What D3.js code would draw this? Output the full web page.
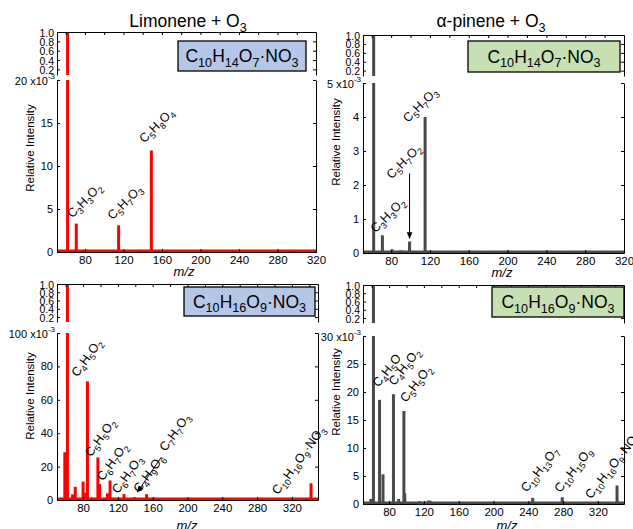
<!DOCTYPE html>
<html lang="en">
<head>
<meta charset="UTF-8">
<title>mass spectra</title>
<script src="https://d3js.org/d3.v7.min.js"></script>
<style>
  body { margin: 0; background: #fff; }
  text { font-family: Arial, "Liberation Sans", Helvetica, sans-serif; }
</style>
</head>
<body>
<script>
// ---- data (m/z and relative intensity) ----
var limoMz  = [62, 71, 74, 82, 90, 99, 109, 115, 137, 149, 222, 233, 294];
var limoVal = [1.0, 0.0033, 0.00015, 0.00025, 0.0002, 0.0002, 0.0002, 0.0031, 0.00025, 0.0118, 0.00015, 0.00015, 0.00025];
var limoLabels = ['C3H3O2', 'C5H7O3', 'C5H8O4'];
var limoLabelMz = [71, 115, 149];

var pineMz  = [62, 71, 81, 89, 91, 99, 104, 115, 140, 165, 182, 228, 242, 262, 295];
var pineVal = [1.0, 0.00052, 0.00011, 0.00007, 0.00007, 0.00034, 0.00004, 0.0040, 0.00004, 0.00004, 0.00003, 0.00004, 0.00004, 0.00003, 0.00004];
var pineLabels = ['C3H3O2', 'C5H7O2', 'C5H7O3'];
var pineLabelMz = [71, 99, 115];

var limo2Mz  = [59, 62, 68, 71, 80, 83, 85, 91, 97, 99, 108, 111, 127, 139, 153, 342];
var limo2Val = [0.0286, 1.0, 0.0034, 0.0079, 0.011, 0.0044, 0.071, 0.0015, 0.0255, 0.0095, 0.004, 0.0117, 0.0035, 0.0018, 0.0035, 0.010];
var limo2Labels = ['C4H5O2', 'C5H5O2', 'C6H7O2', 'C6H7O3', 'C7H7O3', 'C4H9O6', 'C10H16O9·NO3'];
var limo2LabelMz = [85, 97, 111, 127, 139, 153, 342];

var pine2Mz  = [59, 62, 69, 73, 85, 91, 97, 98, 115, 125, 127, 245, 279, 342];
var pine2Val = [0.0009, 1.0, 0.0186, 0.0053, 0.0196, 0.0009, 0.0166, 0.0019, 0.0005, 0.0006, 0.0006, 0.0011, 0.0012, 0.0033];
var pine2Labels = ['C4H5O', 'C4H5O2', 'C5H5O2', 'C10H13O7', 'C10H15O9', 'C10H16O9·NO3'];
var pine2LabelMz = [69, 85, 97, 245, 279, 342];

var titles = ['Limonene + O3', 'α-pinene + O3'];
var boxTexts = ['C10H14O7·NO3', 'C10H14O7·NO3', 'C10H16O9·NO3', 'C10H16O9·NO3'];
var brokenTicks = [0.2, 0.4, 0.6, 0.8, 1.0];
var mzTicks = [80, 120, 160, 200, 240, 280, 320];

// ---- layout ----
var width = 633, height = 529;
var svg = d3.select('body').append('svg').attr('width', width).attr('height', height);

var panels = [
  { mz: limoMz, val: limoVal, labels: limoLabels, labelMz: limoLabelMz, box: boxTexts[0],
    color: '#ff0000', fill: '#b4c7e7', left: 57, right: 316, xDom: [51, 320],
    top: [32, 75], low: [80, 252], lowMax: 20, lowStep: 5, angle: 45,
    nudge: [[-4, -5], [-6, -5], [-7, -7]], arrows: {},
    boxRect: [178, 41, 128, 30], ylab: [30, 148], mzPos: [184, 276] },
  { mz: pineMz, val: pineVal, labels: pineLabels, labelMz: pineLabelMz, box: boxTexts[1],
    color: '#4a4a4a', fill: '#c6e0b4', left: 363, right: 624, xDom: [51, 320],
    top: [35, 76], low: [83, 253], lowMax: 5, lowStep: 1, angle: 45,
    nudge: [[-7, -2], [-18, -62], [-17, 6]], arrows: { 1: [0, -68, 0, -3] },
    boxRect: [468, 41, 152, 31], ylab: [336, 142], mzPos: [502, 277] },
  { mz: limo2Mz, val: limo2Val, labels: limo2Labels, labelMz: limo2LabelMz, box: boxTexts[2],
    color: '#ff0000', fill: '#b4c7e7', left: 57, right: 318, xDom: [50, 350],
    top: [284, 322], low: [333, 500], lowMax: 100, lowStep: 20, angle: 54,
    nudge: [[-10, -4], [-7, 0], [-7, 1], [-6, 0], [31, -45], [-7, -1], [-33, 12]],
    arrows: { 4: [27, -40, 3, -5] },
    boxRect: [184, 287, 131, 29], ylab: [30, 396], mzPos: [187, 530] },
  { mz: pine2Mz, val: pine2Val, labels: pine2Labels, labelMz: pine2LabelMz, box: boxTexts[3],
    color: '#4a4a4a', fill: '#c6e0b4', left: 363, right: 624, xDom: [50, 350],
    top: [285, 323], low: [336, 504], lowMax: 30, lowStep: 5, angle: 52,
    nudge: [[-1, -12], [1, -8], [2, -8], [-6, -5], [-2, -4], [-26, 14]], arrows: {},
    boxRect: [492, 287, 132, 30], ylab: [336, 392], mzPos: [507, 530] }
];

// draws a chemical formula with subscript digits
function formula(sel, str, size) {
  var parts = str.match(/\d+|\D+/g);
  var shifted = false, off = size * 0.28;
  parts.forEach(function (p) {
    var t = sel.append('tspan').text(p);
    if (/^\d/.test(p)) {
      t.attr('font-size', size * 0.72).attr('dy', shifted ? 0 : off);
      shifted = true;
    } else {
      t.attr('font-size', size).attr('dy', shifted ? -off : 0);
      shifted = false;
    }
  });
}

var defs = svg.append('defs');
defs.append('marker').attr('id', 'head').attr('viewBox', '0 0 10 10')
  .attr('refX', 9).attr('refY', 5).attr('markerWidth', 7).attr('markerHeight', 7)
  .attr('orient', 'auto')
  .append('path').attr('d', 'M0,1 L10,5 L0,9 Z').attr('fill', '#000');

function styleAxis(g, size) {
  g.selectAll('path,line').attr('stroke', '#000').attr('stroke-width', 1);
  g.selectAll('text').attr('font-size', size).attr('fill', '#000')
    .attr('font-family', 'Arial, "Liberation Sans", sans-serif');
}

panels.forEach(function (p) {
  var g = svg.append('g');
  var x = d3.scaleLinear().domain(p.xDom).range([p.left, p.right]);
  var yTop = d3.scaleLinear().domain([0.08, 1.0]).range([p.top[1], p.top[0]]);
  var maxV = p.lowMax / 1000;
  var yLow = d3.scaleLinear().domain([0, maxV]).range([p.low[1], p.low[0]]);
  var lowTicks = d3.range(0, p.lowMax + 0.001, p.lowStep).map(function (v) { return v / 1000; });
  var data = d3.zip(p.mz, p.val);
  var bw = 3;

  // baseline strip of small signal
  g.append('line')
    .attr('x1', p.left).attr('x2', p.right)
    .attr('y1', yLow(0) - 1.2).attr('y2', yLow(0) - 1.2)
    .attr('stroke', p.color).attr('stroke-width', 2.5);

  // bars, lower (zoomed) panel
  g.selectAll('rect.low').data(data).join('rect').attr('class', 'low')
    .attr('x', function (d) { return x(d[0]) - bw / 2; })
    .attr('y', function (d) { return yLow(Math.min(d[1], maxV)); })
    .attr('width', bw)
    .attr('height', function (d) { return yLow(0) - yLow(Math.min(d[1], maxV)); })
    .attr('fill', p.color);

  // bars, broken top panel
  g.selectAll('rect.top').data(data.filter(function (d) { return d[1] > 0.08; })).join('rect').attr('class', 'top')
    .attr('x', function (d) { return x(d[0]) - bw / 2; })
    .attr('y', function (d) { return yTop(d[1]); })
    .attr('width', bw)
    .attr('height', function (d) { return yTop(0.08) - yTop(d[1]); })
    .attr('fill', p.color);

  // axes of the top panel
  var ta = g.append('g').attr('transform', 'translate(' + p.left + ',0)')
    .call(d3.axisLeft(yTop).tickValues(brokenTicks).tickSize(-3).tickSizeOuter(0).tickPadding(3).tickFormat(d3.format('.1f')));
  styleAxis(ta, 10.5);
  ta.selectAll('text').attr('dy', '0.38em');
  var tr = g.append('g').attr('transform', 'translate(' + p.right + ',0)')
    .call(d3.axisRight(yTop).tickValues(brokenTicks).tickSize(-3).tickSizeOuter(0).tickFormat(''));
  styleAxis(tr, 11);
  var tt = g.append('g').attr('transform', 'translate(0,' + p.top[0] + ')')
    .call(d3.axisTop(x).tickValues(d3.range(60, p.xDom[1], 20)).tickSize(-3).tickSizeOuter(0).tickFormat(''));
  styleAxis(tt, 11);

  // axes of the lower panel
  var la = g.append('g').attr('transform', 'translate(' + p.left + ',0)')
    .call(d3.axisLeft(yLow).tickValues(lowTicks).tickSize(-3).tickSizeOuter(0).tickPadding(4)
      .tickFormat(function (d) { return d >= maxV - 1e-9 ? '' : d3.format('d')(Math.round(d * 1000)); }));
  styleAxis(la, 11);
  var ex = g.append('text').attr('x', p.left - 2).attr('y', p.low[0] + 5)
    .attr('text-anchor', 'end').attr('font-size', 11);
  ex.append('tspan').text(p.lowMax + ' x10');
  ex.append('tspan').attr('dy', -6).attr('font-size', 8).text('-3');

  var ra = g.append('g').attr('transform', 'translate(' + p.right + ',0)')
    .call(d3.axisRight(yLow).tickValues(lowTicks).tickSize(-3).tickSizeOuter(0).tickFormat(''));
  styleAxis(ra, 11);
  var ba = g.append('g').attr('transform', 'translate(0,' + p.low[1] + ')')
    .call(d3.axisBottom(x).tickValues(mzTicks).tickSize(-3).tickSizeOuter(0).tickPadding(4));
  styleAxis(ba, 11.5);

  // peak labels
  p.labels.forEach(function (lab, i) {
    var m = p.labelMz[i];
    var v = p.val[p.mz.indexOf(m)];
    var bx = x(m), by = yLow(Math.min(v, maxV));
    var n = p.nudge[i];
    var t = g.append('text')
      .attr('transform', 'translate(' + (bx + n[0]) + ',' + (by + n[1]) + ') rotate(' + (-p.angle) + ')')
      .attr('fill', '#000');
    formula(t, lab, 12.5);
    var a = p.arrows[i];
    if (a) {
      g.append('line')
        .attr('x1', bx + a[0]).attr('y1', by + a[1])
        .attr('x2', bx + a[2]).attr('y2', by + a[3])
        .attr('stroke', '#000').attr('stroke-width', 1)
        .attr('marker-end', 'url(#head)');
    }
  });

  // formula box
  var r = p.boxRect;
  g.append('rect').attr('x', r[0]).attr('y', r[1]).attr('width', r[2]).attr('height', r[3])
    .attr('fill', p.fill).attr('stroke', '#000').attr('stroke-width', 1.3);
  var bt = g.append('text').attr('x', r[0] + r[2] / 2).attr('y', r[1] + r[3] / 2 + 6)
    .attr('text-anchor', 'middle').attr('fill', '#000');
  formula(bt, p.box, 17.5);

  // axis titles
  g.append('text').attr('transform', 'translate(' + (p.ylab[0] + 4) + ',' + p.ylab[1] + ') rotate(-90)')
    .attr('text-anchor', 'middle').attr('font-size', 11.5).text('Relative Intensity');
  g.append('text').attr('x', p.mzPos[0]).attr('y', p.mzPos[1])
    .attr('text-anchor', 'middle').attr('font-size', 13).attr('font-style', 'italic').text('m/z');
});

// column titles
[[188, titles[0]], [491, titles[1]]].forEach(function (d) {
  var t = svg.append('text').attr('x', d[0]).attr('y', 27).attr('text-anchor', 'middle');
  formula(t, d[1], 17.5);
});
</script>
</body>
</html>
